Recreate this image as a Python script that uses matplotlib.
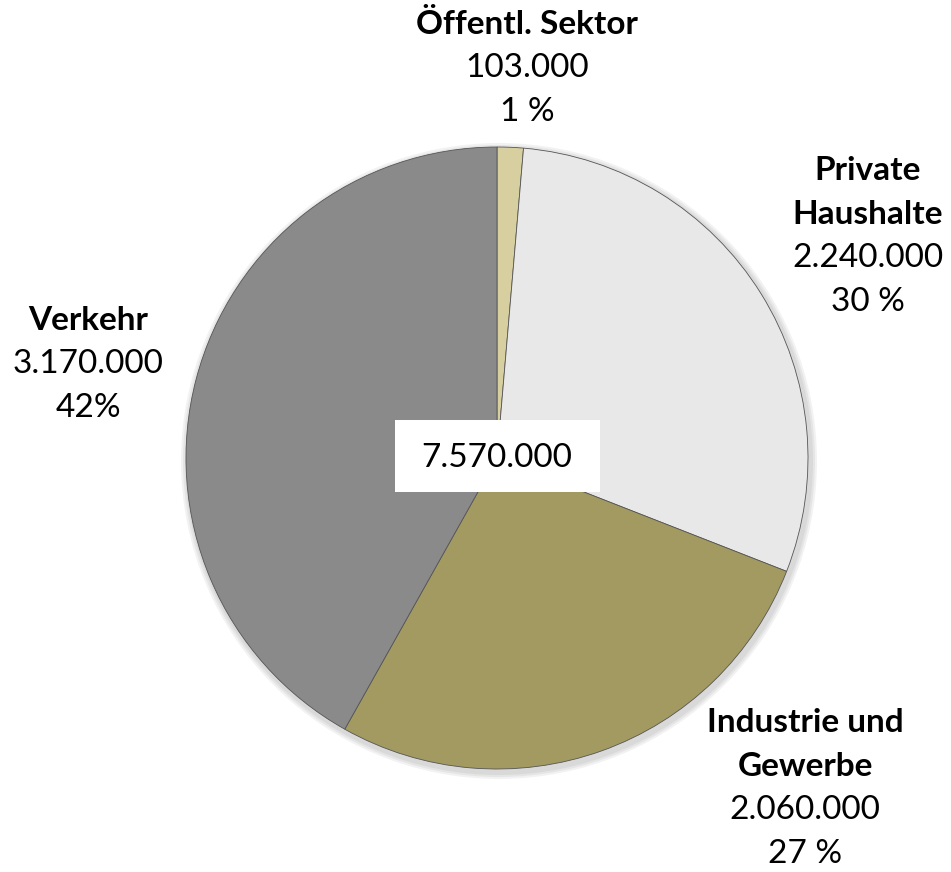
import matplotlib
matplotlib.use("Agg")
import matplotlib.pyplot as plt

categories = ["Öffentl. Sektor", "Private\nHaushalte", "Industrie und\nGewerbe", "Verkehr"]
values = [103000, 2240000, 2060000, 3170000]
value_labels = ["103.000", "2.240.000", "2.060.000", "3.170.000"]
pct_labels = ["1 %", "30 %", "27 %", "42%"]
total_label = "7.570.000"
colors = ["#d8cfa0", "#e8e8e8", "#a39a62", "#8a8a8a"]

W, H = 951, 872
fig = plt.figure(figsize=(W / 100, H / 100), dpi=100)
ax = fig.add_axes([0, 0, 1, 1])
ax.set_xlim(0, W)
ax.set_ylim(0, H)
ax.set_aspect("equal")
ax.axis("off")

cx, cy, r = 497, H - 458, 311

# soft shadow
for i, a in enumerate([0.05, 0.05, 0.05]):
    circ = plt.Circle((cx + 2, cy - 3), r + 3 + i * 2, color="black", alpha=a, lw=0)
    ax.add_patch(circ)

wedges, _ = ax.pie(values, colors=colors, startangle=90, counterclock=False,
                   center=(cx, cy), radius=r, frame=True,
                   wedgeprops=dict(edgecolor="#555555", linewidth=0.6))
ax.set_xlim(0, W)
ax.set_ylim(0, H)
ax.axis("off")

font = "Lato"
fs = 24

def label(x, y_top, name, val, pct):
    lines = name.split("\n")
    y = y_top
    step = 44
    for ln in lines:
        ax.text(x, H - y, ln, ha="center", va="center", fontsize=fs,
                fontweight="bold", family=font)
        y += step
    ax.text(x, H - y, val, ha="center", va="center", fontsize=fs, family=font)
    y += step
    ax.text(x, H - y, pct, ha="center", va="center", fontsize=fs, family=font)

label(527, 24, categories[0], value_labels[0], pct_labels[0])
label(868, 170, categories[1], value_labels[1], pct_labels[1])
label(805, 722, categories[2], value_labels[2], pct_labels[2])
label(88, 320, categories[3], value_labels[3], pct_labels[3])

ax.add_patch(plt.Rectangle((395, H - 492), 205, 72, color="white", lw=0, zorder=5))
ax.text(497, H - 458, total_label, ha="center", va="center", fontsize=fs,
        family=font, zorder=6)

fig.savefig("out.png", dpi=100)
